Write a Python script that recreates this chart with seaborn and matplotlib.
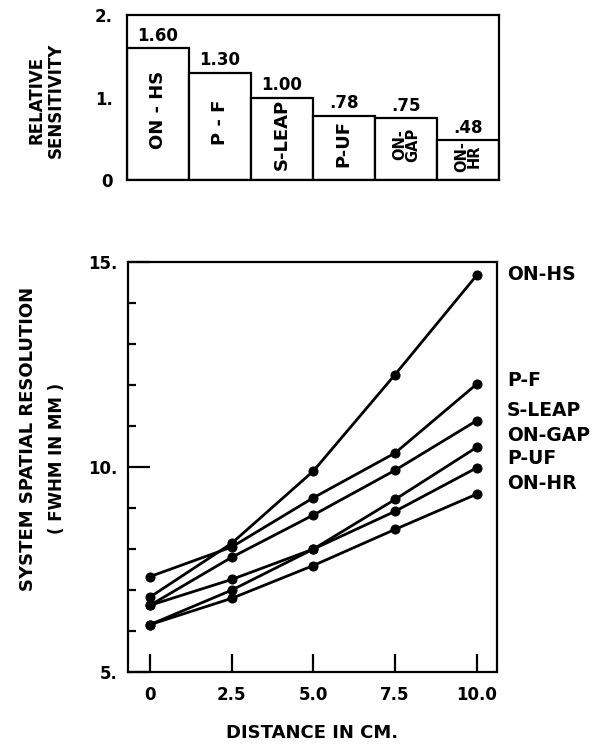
import seaborn as sns
import matplotlib.pyplot as plt
from matplotlib.ticker import FixedLocator

# Relative sensitivity of each collimator
categories = ["ON-HS", "P-F", "S-LEAP", "P-UF", "ON-GAP", "ON-HR"]
sensitivity = [1.60, 1.30, 1.00, 0.78, 0.75, 0.48]
sens_labels = ["1.60", "1.30", "1.00", ".78", ".75", ".48"]
bar_text = ["ON - HS", "P - F", "S-LEAP", "P-UF", "ON-\nGAP", "ON-\nHR"]

# Spatial resolution (FWHM, mm) vs distance (cm)
distance = [0, 2.5, 5.0, 7.5, 10.0]
on_hs = [6.83, 8.14, 9.90, 12.25, 14.67]
p_f = [7.33, 8.05, 9.25, 10.34, 12.02]
s_leap = [6.63, 7.80, 8.83, 9.92, 11.13]
on_gap = [6.63, 7.26, 8.00, 9.21, 10.48]
p_uf = [6.16, 7.00, 8.00, 8.92, 9.98]
on_hr = [6.16, 6.80, 7.60, 8.48, 9.34]
x_ticklabels = ["0", "2.5", "5.0", "7.5", "10.0"]

sns.set_style("ticks")
plt.rcParams['font.family'] = ['DejaVu Sans']
plt.rcParams['font.weight'] = 'bold'
plt.rcParams['axes.linewidth'] = 1.6
for key in ['text.color', 'axes.labelcolor', 'xtick.color', 'ytick.color', 'axes.edgecolor']:
    plt.rcParams[key] = 'black'

fig = plt.figure(figsize=(6.03, 7.52), dpi=100)

# --- top: bar chart of relative sensitivity
ax1 = fig.add_axes([0.210, 0.7606, 0.6175, 0.2194])
sns.barplot(x=categories, y=sensitivity, color='white', edgecolor='black',
            linewidth=1.6, width=1.0, saturation=1, ax=ax1)
ax1.set_xlim(-0.5, 5.5)
ax1.set_ylim(0, 2)
ax1.set_xticks([])
ax1.set_xlabel('')
ax1.set_ylabel('')
ax1.set_yticks([0, 1, 2])
ax1.set_yticklabels(["0", "1.", "2."], fontsize=12, fontweight='bold')
ax1.tick_params(axis='y', which='major', length=0, pad=10)
ax1.yaxis.set_minor_locator(FixedLocator([1]))
ax1.tick_params(axis='y', which='minor', length=8, width=1.6, direction='out',
                left=True, right=True)
for i, (v, lab, txt) in enumerate(zip(sensitivity, sens_labels, bar_text)):
    ax1.text(i, v + 0.04, lab, ha='center', va='bottom', fontsize=12, fontweight='bold')
    fs = 10.5 if '\n' in txt else 13
    ax1.text(i, v / 2 + 0.05, txt, rotation=90, ha='center', va='center',
             fontsize=fs, fontweight='bold', linespacing=0.85)

fig.text(0.077, 0.867, "RELATIVE\nSENSITIVITY", rotation=90, ha='center', va='center',
         fontsize=12, fontweight='bold', multialignment='center', linespacing=1.1)

# --- bottom: resolution vs distance
ax2 = fig.add_axes([0.2128, 0.106, 0.6109, 0.546])
series = [("ON-HS", on_hs), ("P-F", p_f), ("S-LEAP", s_leap),
          ("ON-GAP", on_gap), ("P-UF", p_uf), ("ON-HR", on_hr)]
for name, vals in series:
    sns.lineplot(x=distance, y=vals, color='black', linewidth=2.0, marker='o',
                 markersize=6.5, markeredgecolor='black', ax=ax2)

ax2.set_xlim(-0.66, 10.61)
ax2.set_ylim(5, 15)
ax2.set_xticks(distance)
ax2.set_xticklabels(x_ticklabels, fontsize=12, fontweight='bold')
ax2.set_yticks([5, 10, 15])
ax2.set_yticklabels(["5.", "10.", "15."], fontsize=12, fontweight='bold')
ax2.yaxis.set_minor_locator(FixedLocator(range(6, 15)))
ax2.tick_params(axis='x', which='major', direction='in', length=13, width=1.6, pad=10)
ax2.tick_params(axis='y', which='major', direction='in', length=16, width=1.6, pad=8)
ax2.tick_params(axis='y', which='minor', direction='in', length=6, width=1.6)

# series names to the right of the plot
label_y = {"ON-HS": 14.70, "P-F": 12.10, "S-LEAP": 11.37,
           "ON-GAP": 10.77, "P-UF": 10.20, "ON-HR": 9.60}
for name, vals in series:
    ax2.text(10.92, label_y[name], name, ha='left', va='center', fontsize=13.5,
             fontweight='bold', clip_on=False)

ax2.set_xlabel("DISTANCE IN CM.", fontsize=13, fontweight='bold', labelpad=14)
fig.text(0.047, 0.416, "SYSTEM SPATIAL RESOLUTION", rotation=90, ha='center',
         va='center', fontsize=13, fontweight='bold')
fig.text(0.094, 0.390, "( FWHM IN MM )", rotation=90, ha='center',
         va='center', fontsize=12, fontweight='bold')

fig.savefig("out.png", dpi=100)
